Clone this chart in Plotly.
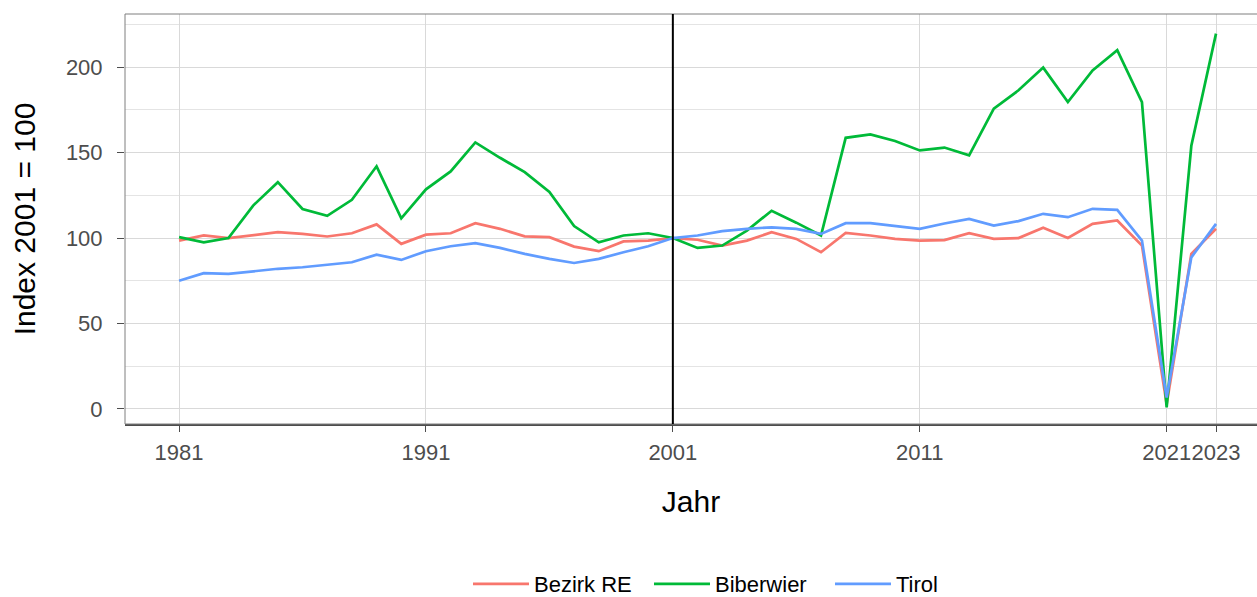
import plotly.graph_objects as go

years = list(range(1981, 2024))

bezirk_re = [98.5, 101.5, 100.0, 101.8, 103.4, 102.4, 100.9, 102.8, 108.0, 96.6,
             102.0, 102.8, 108.7, 105.4, 101.0, 100.5, 95.0, 92.3, 98.0, 98.5,
             100.0, 99.0, 95.6, 98.5, 103.4, 99.5, 91.7, 103.0, 101.5, 99.5,
             98.5, 98.8, 102.8, 99.5, 100.0, 106.0, 100.0, 108.3, 110.3, 95.6,
             2.7, 90.7, 105.4]

biberwier = [100.5, 97.5, 100.0, 119.0, 132.7, 117.0, 113.0, 122.4, 142.0, 111.5,
             128.5, 139.0, 156.0, 147.0, 138.6, 127.0, 107.0, 97.5, 101.5, 102.8,
             100.0, 94.2, 95.6, 104.4, 116.0, 109.0, 101.5, 158.7, 160.7, 156.8,
             151.3, 153.0, 148.4, 175.8, 186.5, 199.8, 179.6, 198.2, 210.0, 179.6,
             0.8, 154.0, 219.7]

tirol = [75.0, 79.4, 79.0, 80.5, 82.0, 82.9, 84.5, 85.8, 90.3, 87.2,
         92.3, 95.2, 97.0, 94.2, 90.7, 87.8, 85.4, 87.8, 91.7, 95.2,
         100.0, 101.5, 104.0, 105.4, 106.3, 105.4, 102.4, 108.7, 108.7, 106.9,
         105.4, 108.5, 111.2, 107.3, 109.9, 114.2, 112.2, 117.1, 116.5, 98.5,
         6.6, 88.7, 108.3]

x_ticks = [1981, 1991, 2001, 2011, 2021, 2023]
y_ticks = [0, 50, 100, 150, 200]
y_minor = [25, 75, 125, 175, 225]

series = [("Bezirk RE", bezirk_re, "#F8766D"),
          ("Biberwier", biberwier, "#00BA38"),
          ("Tirol", tirol, "#619CFF")]

fig = go.Figure()
for name, vals, col in series:
    fig.add_trace(go.Scatter(x=years, y=vals, mode="lines", name=name,
                             line=dict(color=col, width=2.7)))

font_family = "Liberation Sans, Arial, sans-serif"

fig.update_layout(
    width=1257, height=597,
    margin=dict(l=125, r=0, t=14, b=173),
    paper_bgcolor="white", plot_bgcolor="white",
    font=dict(family=font_family, color="#4d4d4d"),
    showlegend=True,
    legend=dict(orientation="h", x=0.303, xanchor="left",
                yref="container", y=0.0218, yanchor="middle",
                font=dict(size=22, color="black", family=font_family),
                itemwidth=56, entrywidth=110, entrywidthmode="pixels", tracegroupgap=0),
    xaxis=dict(range=[1978.81, 2024.66], tickvals=x_ticks,
               ticktext=[str(v) for v in x_ticks], tickangle=0,
               showgrid=True, gridcolor="#d9d9d9", gridwidth=1,
               ticks="outside", ticklen=6, tickcolor="#4d4d4d", tickwidth=1,
               ticklabelstandoff=2,
               tickfont=dict(size=22, color="#4d4d4d"),
               showline=True, linecolor="#4d4d4d", linewidth=2, mirror=False,
               zeroline=False, automargin=False,
               title=dict(text="Jahr", font=dict(size=30, color="black"), standoff=27)),
    yaxis=dict(range=[-8.9, 231.2], tickvals=y_ticks,
               showgrid=True, gridcolor="#d9d9d9", gridwidth=1,
               minor=dict(tickvals=y_minor, showgrid=True, gridcolor="#e4e4e4", gridwidth=1, ticks=""),
               ticks="outside", ticklen=7, tickcolor="#4d4d4d", tickwidth=1,
               ticklabelstandoff=10,
               tickfont=dict(size=22, color="#4d4d4d"),
               showline=False, zeroline=False, automargin=False,
               title=dict(text="Index 2001 = 100", font=dict(size=30, color="black"), standoff=21)),
)

# panel border
fig.add_shape(type="rect", xref="paper", yref="paper", x0=0, x1=1.01, y0=0, y1=1,
              line=dict(color="#7f7f7f", width=1), fillcolor="rgba(0,0,0,0)", layer="above")
# reference line at 2001
fig.add_shape(type="line", xref="x", yref="paper", x0=2001, x1=2001, y0=0, y1=1,
              line=dict(color="black", width=2), layer="above")

fig.write_html("out.html", config={"displayModeBar": False},
               post_script="document.body.style.margin='0';")
